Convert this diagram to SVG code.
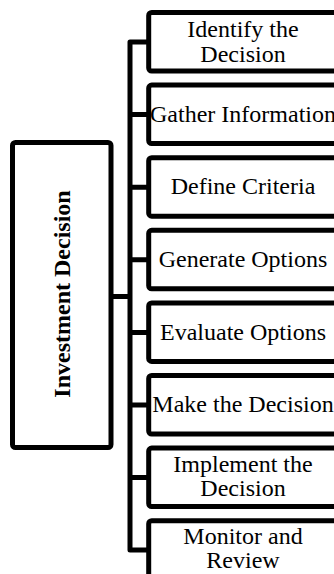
<svg xmlns="http://www.w3.org/2000/svg" width="334" height="574" viewBox="0 0 334 574">
<style>
.box{fill:#fff;stroke:#000;stroke-width:5}
.conn{fill:none;stroke:#000;stroke-width:5;stroke-linejoin:round}
.t{font-family:"Liberation Serif","Times New Roman",serif;font-size:24px;fill:#000;text-anchor:middle}
.tb{font-family:"Liberation Serif","Times New Roman",serif;font-size:24px;font-weight:bold;fill:#000;text-anchor:middle}
</style>
<rect width="334" height="574" fill="#fff"/>
<g id="connectors">
<path class="conn" d="M111 296.5H130M148.7 42H130V549.9H148.7"/>
<path class="conn" d="M130 114.6H148.7M130 187.2H148.7M130 259.8H148.7M130 332.4H148.7M130 405H148.7M130 477.4H148.7"/>
</g>
<g id="root">
<rect class="box" x="12.5" y="142.5" width="98.5" height="305" rx="3"/>
<text class="tb" transform="translate(70,294) rotate(-90)">Investment Decision</text>
</g>
<g id="n1">
<rect class="box" x="148.7" y="12.5" width="188" height="58.5" rx="3"/>
<text class="t" x="243" y="37">Identify the</text>
<text class="t" x="243" y="61.5">Decision</text>
</g>
<g id="n2">
<rect class="box" x="148.7" y="85.1" width="188" height="58.5" rx="3"/>
<text class="t" x="243" y="121.8">Gather Information</text>
</g>
<g id="n3">
<rect class="box" x="148.7" y="157.7" width="188" height="58.5" rx="3"/>
<text class="t" x="243" y="194.4">Define Criteria</text>
</g>
<g id="n4">
<rect class="box" x="148.7" y="230.3" width="188" height="58.5" rx="3"/>
<text class="t" x="243" y="267">Generate Options</text>
</g>
<g id="n5">
<rect class="box" x="148.7" y="302.9" width="188" height="58.5" rx="3"/>
<text class="t" x="243" y="339.6">Evaluate Options</text>
</g>
<g id="n6">
<rect class="box" x="148.7" y="375.5" width="188" height="58.5" rx="3"/>
<text class="t" x="243" y="412.2">Make the Decision</text>
</g>
<g id="n7">
<rect class="box" x="148.7" y="448.1" width="188" height="58.5" rx="3"/>
<text class="t" x="243" y="472">Implement the</text>
<text class="t" x="243" y="496">Decision</text>
</g>
<g id="n8">
<rect class="box" x="148.7" y="520.7" width="188" height="58.5" rx="3"/>
<text class="t" x="243" y="544">Monitor and</text>
<text class="t" x="243" y="567.5">Review</text>
</g>
</svg>
